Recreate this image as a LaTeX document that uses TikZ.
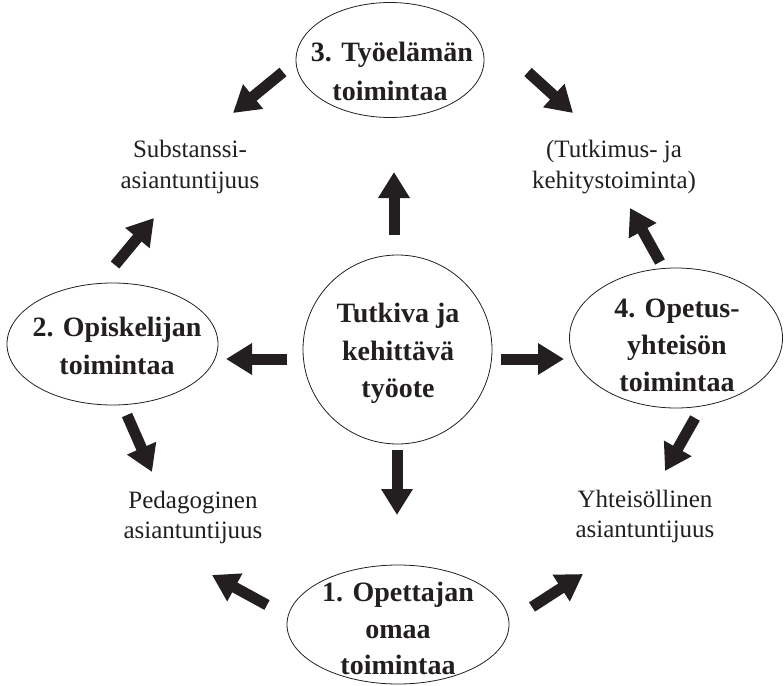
\documentclass[tikz,border=0pt]{standalone}
\usepackage{fontspec}
\setmainfont{Liberation Serif}
\usetikzlibrary{arrows.meta,shapes.geometric}
\definecolor{ink}{RGB}{35,31,32}
\begin{document}
\begin{tikzpicture}[x=1pt,y=-1pt,
  oval/.style={draw=ink, line width=0.8pt, ellipse, inner sep=0pt},
  round/.style={draw=ink, line width=0.8pt, circle, inner sep=0pt},
  btxt/.style={font=\fontsize{28}{37}\selectfont\bfseries, text=ink, anchor=base, inner sep=0pt},
  lbl/.style={font=\fontsize{25}{31}\selectfont, text=ink, anchor=base, inner sep=0pt},
  bigarrow/.style={draw=ink, line width=11pt, -{Triangle[width=30pt,length=26pt]}}
]
\useasboundingbox (0,0) rectangle (784,685);

% shapes
\node[oval, minimum width=188pt, minimum height=115pt] (e3) at (390,60) {};
\node[round, minimum size=189pt] (c0) at (397.5,349.5) {};
\node[oval, minimum width=211pt, minimum height=122pt] (e2) at (112.5,344) {};
\node[oval, minimum width=213pt, minimum height=140pt] (e4) at (676,338) {};
\node[oval, minimum width=222pt, minimum height=119pt] (e1) at (398,624.5) {};

% ellipse texts
\node[btxt] (t3a) at (392,62) {3. Työelämän};
\node[btxt] (t3b) at (390,100) {toimintaa};
\node[btxt] (t0a) at (398,322) {Tutkiva ja};
\node[btxt] (t0b) at (398,360) {kehittävä};
\node[btxt] (t0c) at (398,397) {työote};
\node[btxt] (t2a) at (117,336) {2. Opiskelijan};
\node[btxt] (t2b) at (117,374) {toimintaa};
\node[btxt] (t4a) at (677,317) {4. Opetus-};
\node[btxt] (t4b) at (677,354) {yhteisön};
\node[btxt] (t4c) at (677,391) {toimintaa};
\node[btxt] (t1a) at (398,601) {1. Opettajan};
\node[btxt] (t1b) at (398,638) {omaa};
\node[btxt] (t1c) at (398,674.5) {toimintaa};

% labels
\node[lbl] (sa) at (190,157) {Substanssi-};
\node[lbl] (sb) at (190,188) {asiantuntijuus};
\node[lbl] (ka) at (614,157) {(Tutkimus- ja};
\node[lbl] (kb) at (614,188) {kehitystoiminta)};
\node[lbl] (pa) at (193,508) {Pedagoginen};
\node[lbl] (pb) at (193,538) {asiantuntijuus};
\node[lbl] (ya) at (645,507) {Yhteisöllinen};
\node[lbl] (yb) at (645,537) {asiantuntijuus};

% arrow end points
\coordinate (a1t) at (283,72);  \coordinate (a1h) at (233,113);
\coordinate (a2t) at (528,72);  \coordinate (a2h) at (573,113);
\coordinate (a3t) at (394,235); \coordinate (a3h) at (394,172);
\coordinate (a4t) at (287,359); \coordinate (a4h) at (226,359);
\coordinate (a5t) at (501,359); \coordinate (a5h) at (564,359);
\coordinate (a6t) at (397,450); \coordinate (a6h) at (397,515);
\coordinate (a7t) at (115,265); \coordinate (a7h) at (154,218);
\coordinate (a8t) at (127,415); \coordinate (a8h) at (152,472);
\coordinate (a9t) at (660,262); \coordinate (a9h) at (630,208);
\coordinate (a10t) at (695,418); \coordinate (a10h) at (665,471);
\coordinate (a11t) at (267,605); \coordinate (a11h) at (212,575);
\coordinate (a12t) at (532,607); \coordinate (a12h) at (583,574);

\foreach \i in {1,...,12} {
  \draw[bigarrow] (a\i t) -- (a\i h);
}
\end{tikzpicture}
\end{document}
